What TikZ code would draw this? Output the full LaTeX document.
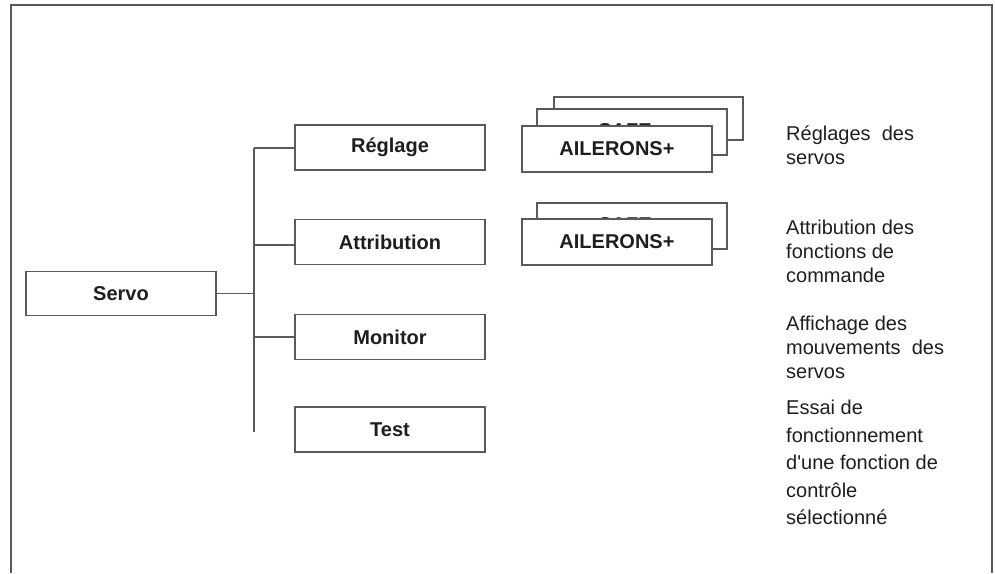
\documentclass[tikz,border=0pt]{standalone}
\usepackage{fontspec}
\setmainfont{Liberation Sans}
\definecolor{linec}{HTML}{5A5A5A}
\definecolor{txtc}{HTML}{1E1E1E}
\begin{document}
\begin{tikzpicture}[x=1pt,y=-1pt,
  box/.style={draw=linec, line width=1.3pt, fill=white, minimum width=190pt, minimum height=45pt, inner sep=0pt, text=txtc, font=\fontsize{20}{24}\selectfont\bfseries},
  conn/.style={draw=linec, line width=1.3pt},
  desc/.style={anchor=north west, align=left, inner sep=0pt, text=txtc, font=\fontsize{20}{24}\selectfont},
  hid/.style={anchor=base, inner sep=0pt, text=txtc, font=\fontsize{20}{24}\selectfont\bfseries}]
\useasboundingbox (0,0) rectangle (995,573);
% frame
\draw[linec, line width=1.5pt] (11,573) -- (11,5) -- (992,5) -- (992,573);
% main boxes
\node[box, minimum height=44pt] (servo) at (121,293.5) {Servo};
\node[box] (reg) at (390,147.5) {R\'eglage};
\node[box] (att) at (390,242) {Attribution};
\node[box] (mon) at (390,337) {Monitor};
\node[box] (tst) at (390,429.5) {Test};
% bus
\coordinate (busTop) at (254,148);
\coordinate (busBot) at (254,432);
\coordinate (jS) at (254,293.5);
\coordinate (jA) at (254,245);
\coordinate (jM) at (254,337);
\draw[conn] (busTop) -- (busBot);
\draw[conn] (servo.east) -- (jS);
\draw[conn] (busTop) -- (busTop -| reg.west);
\draw[conn] (jA) -- (jA -| att.west);
\draw[conn] (jM) -- (jM -| mon.west);
% stack 1
\node[box, minimum width=189pt, minimum height=43pt] (s1c) at (648.5,118.5) {};
\node[box, minimum height=46pt] (s1b) at (632,132) {};
\node[hid] (s1t) at (625,137.5) {SAFE};
\node[box, minimum height=46pt] (s1a) at (617,149) {AILERONS+};
% stack 2
\node[box, minimum height=46pt] (s2b) at (632,226) {};
\node[hid] (s2t) at (625,231) {SAFE};
\node[box, minimum height=46pt] (s2a) at (617,242) {AILERONS+};
% descriptions
\node[desc] (d1) at (786,126) {R\'eglages\ \ des\\servos};
\node[desc] (d2) at (786,220) {Attribution des\\fonctions de\\commande};
\node[desc] (d3) at (786,316) {Affichage des\\mouvements\ \ des\\servos};
\node[desc, font=\fontsize{20}{27.5}\selectfont] (d4) at (786,400) {Essai de\\fonctionnement\\d\textquotesingle une fonction de\\contr\^ole\\s\'electionn\'e};
\end{tikzpicture}
\end{document}
